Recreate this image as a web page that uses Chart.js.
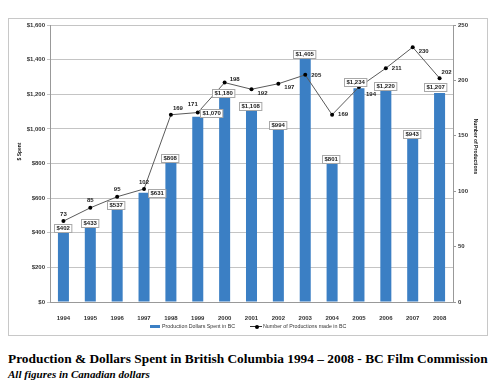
<!DOCTYPE html>
<html><head><meta charset="utf-8">
<script src="https://cdn.jsdelivr.net/npm/chart.js@4/dist/chart.umd.min.js"></script>
<style>
html,body{margin:0;padding:0;background:#fff;width:500px;height:384px;overflow:hidden;}
#frame{position:absolute;left:8px;top:18px;width:480px;height:318px;box-sizing:border-box;border:1px solid #c8c8c8;}
#wrap{position:absolute;left:8px;top:18px;width:480px;height:318px;}
.lg{position:absolute;top:322px;font:5.3px "Liberation Sans",Arial,sans-serif;color:#333;white-space:nowrap;line-height:8px;}
#title{position:absolute;left:8px;top:349px;font:bold 16px "Liberation Serif","Times New Roman",serif;color:#000;white-space:nowrap;line-height:20px;}
#sub{position:absolute;left:8px;top:367px;font:italic bold 11px "Liberation Serif","Times New Roman",serif;color:#000;white-space:nowrap;line-height:14px;}
</style></head>
<body>
<div id="frame"></div>
<div id="wrap"><canvas id="c" width="480" height="318"></canvas></div>
<div class="lg" style="left:150px;"><span style="display:inline-block;width:10px;height:3px;background:#3b7fc4;vertical-align:middle;margin-right:2px;"></span>Production Dollars Spent in BC</div>
<div class="lg" style="left:250px;"><span style="display:inline-block;position:relative;width:12px;height:1px;background:#333;vertical-align:middle;margin-right:1px;"><span style="position:absolute;left:4.5px;top:-1.5px;width:4px;height:4px;border-radius:2px;background:#000;"></span></span>Number of Productions made in BC</div>
<div id="title">Production &amp; Dollars Spent in British Columbia 1994 – 2008 - BC Film Commission</div>
<div id="sub">All figures in Canadian dollars</div>
<script>
const years = ['1994','1995','1996','1997','1998','1999','2000','2001','2002','2003','2004','2005','2006','2007','2008'];
const dollarsSpent = [402,433,537,631,808,1070,1180,1108,994,1405,801,1234,1220,943,1207];
const productions = [73,85,95,102,169,171,198,192,197,205,169,194,211,230,202];
const dollarLabelPlace = ['top','top','top','right','top','topright','top','top','top','top','top','topleft','top','top','topleft'];
const prodLabelPlace = ['top','top','top','top','topright','topleft','rightabove','rightbelow','rightbelow','right','right','rightbelow2','right','rightbelow','topright'];
const leftTicks = [0,200,400,600,800,1000,1200,1400,1600];
const rightTicks = [0,50,100,150,200,250];

function fit(id, w){
  const el=document.getElementById(id);
  let fs=parseFloat(getComputedStyle(el).fontSize);
  const cw=el.getBoundingClientRect().width;
  el.style.fontSize=(fs*w/cw)+'px';
}
fit('title',480); fit('sub',142);

const tickFont={family:'"Liberation Sans", Arial, sans-serif',size:6,weight:'bold'};

const labelPlugin={
  id:'labels',
  afterDatasetsDraw(chart){
    const ctx=chart.ctx;
    ctx.save();
    ctx.font='bold 6px "Liberation Sans", Arial, sans-serif';
    ctx.textBaseline='middle';
    const barMeta=chart.getDatasetMeta(0);
    barMeta.data.forEach((b,i)=>{
      const txt='$'+dollarsSpent[i].toLocaleString('en-US');
      const tw=ctx.measureText(txt).width;
      const w=tw+4,h=8;
      let cx=b.x-1,cy=b.y-h/2-0.5;
      const p=dollarLabelPlace[i];
      if(p==='right'){cx=b.x+4+w/2;cy=b.y;}
      if(p==='topright'){cx=b.x+2+w/2;cy=b.y-4;}
      if(p==='topleft'){cx=b.x-4;cy=b.y-h/2-2;}
      ctx.fillStyle='#fff';
      ctx.fillRect(Math.round(cx-w/2)+0.5,Math.round(cy-h/2)+0.5,w,h);
      ctx.strokeStyle='#a8a8a8';ctx.lineWidth=1;
      ctx.strokeRect(Math.round(cx-w/2)+0.5,Math.round(cy-h/2)+0.5,w,h);
      ctx.fillStyle='#222';ctx.textAlign='center';
      ctx.fillText(txt,Math.round(cx-w/2)+0.5+w/2,Math.round(cy-h/2)+0.5+h/2);
    });
    const lineMeta=chart.getDatasetMeta(1);
    lineMeta.data.forEach((pt,i)=>{
      const txt=String(productions[i]);
      const p=prodLabelPlace[i];
      let x=pt.x,y=pt.y,al='center';
      if(p==='top'){y-=7;}
      else if(p==='topright'){x+=7;y-=6;}
      else if(p==='topleft'){x-=5;y-=8;}
      else if(p==='right'){x+=6;al='left';}
      else if(p==='rightabove'){x+=5;y-=3;al='left';}
      else if(p==='rightbelow'){x+=6;y+=4;al='left';}
      else if(p==='rightbelow2'){x+=7;y+=7;al='left';}
      ctx.textAlign=al;ctx.fillStyle='#222';
      ctx.fillText(txt,x,y);
    });
    const a=chart.chartArea;
    ctx.font='bold 5px "Liberation Sans", Arial, sans-serif';
    ctx.fillStyle='#222';ctx.textAlign='center';
    ctx.save();ctx.translate(12,(a.top+a.bottom)/2-12);ctx.rotate(-Math.PI/2);ctx.fillText('$ Spent',0,0);ctx.restore();
    ctx.save();ctx.translate(a.right+22,(a.top+a.bottom)/2-17);ctx.rotate(Math.PI/2);ctx.fillText('Number of Productions',0,0);ctx.restore();
    ctx.restore();
  }
};

new Chart(document.getElementById('c'),{
  data:{
    labels:years,
    datasets:[
      {type:'bar',label:'Production Dollars Spent in BC',data:dollarsSpent,backgroundColor:'#3b7fc4',yAxisID:'y',categoryPercentage:1,barPercentage:0.41,order:2},
      {type:'line',label:'Number of Productions made in BC',data:productions,yAxisID:'y1',borderColor:'#5a5a5a',borderWidth:1,pointRadius:2,pointBackgroundColor:'#000',pointBorderColor:'#000',pointBorderWidth:0,tension:0,order:1}
    ]
  },
  options:{
    responsive:false,animation:false,
    layout:{padding:{top:7,bottom:0,left:0,right:0}},
    plugins:{legend:{display:false},tooltip:{enabled:false}},
    scales:{
      x:{grid:{display:false},border:{display:true,color:'#999'},
         ticks:{font:tickFont,color:'#333',padding:5,maxRotation:0,autoSkip:false},
         afterFit(s){s.height=34;}},
      y:{position:'left',min:0,max:1600,
         afterBuildTicks(s){s.ticks=leftTicks.map(v=>({value:v}));},
         ticks:{font:tickFont,color:'#333',padding:2,callback:v=>'$'+v.toLocaleString('en-US')},
         grid:{color:'#c4c4c4',lineWidth:1,tickLength:3},border:{display:true,color:'#999'},
         afterFit(s){s.width=42;}},
      y1:{position:'right',min:0,max:250,
         afterBuildTicks(s){s.ticks=rightTicks.map(v=>({value:v}));},
         ticks:{font:tickFont,color:'#333',padding:2},
         grid:{drawOnChartArea:false,color:'#999',tickLength:3},border:{display:true,color:'#999'},
         afterFit(s){s.width=35;}}
    }
  },
  plugins:[labelPlugin]
});
</script>
</body></html>
